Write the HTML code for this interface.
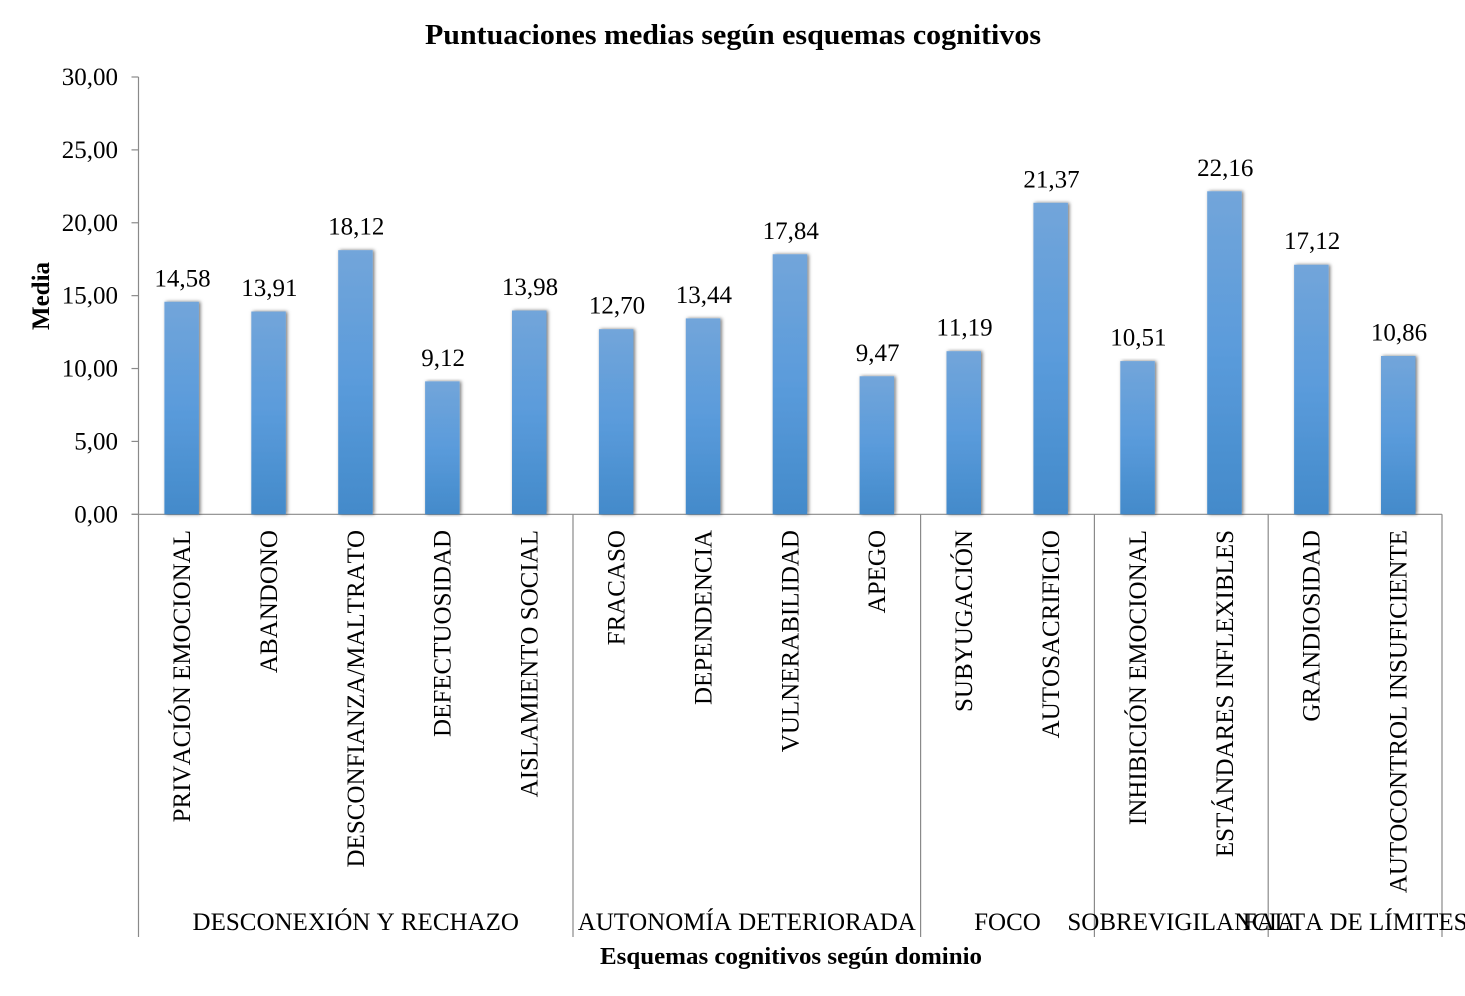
<!DOCTYPE html>
<html lang="es">
<head>
<meta charset="utf-8">
<title>Puntuaciones medias según esquemas cognitivos</title>
<style>
html,body{margin:0;padding:0;background:#fff;width:1465px;height:996px;overflow:hidden}
svg{display:block}
text{font-family:"Liberation Serif",serif;fill:#000;font-kerning:none}
</style>
</head>
<body>
<svg id="chart" xmlns="http://www.w3.org/2000/svg" width="1465" height="996" viewBox="0 0 1465 996">
<defs>
<linearGradient id="barFill" gradientUnits="objectBoundingBox" x1="0" y1="0" x2="0" y2="1">
<stop offset="0" stop-color="#72a5da"/>
<stop offset="0.5" stop-color="#5a9bdb"/>
<stop offset="1" stop-color="#438aca"/>
</linearGradient>
<filter id="barShadow" x="-30%" y="-2%" width="160%" height="104%">
<feDropShadow dx="1.5" dy="0" stdDeviation="1.8" flood-color="#000" flood-opacity="0.55"/>
</filter>
</defs>
<text x="733" y="44" text-anchor="middle" font-size="29" font-weight="bold" textLength="616" lengthAdjust="spacingAndGlyphs">Puntuaciones medias según esquemas cognitivos</text>
<text transform="translate(49,296) rotate(-90)" text-anchor="middle" font-size="25" font-weight="bold">Media</text>
<text x="791" y="964" text-anchor="middle" font-size="24" font-weight="bold" textLength="382" lengthAdjust="spacingAndGlyphs">Esquemas cognitivos según dominio</text>
<g id="axes"></g>
<g id="bars"></g>
<g id="labels"></g>
</svg>
<script>
const categories = ["PRIVACIÓN EMOCIONAL","ABANDONO","DESCONFIANZA/MALTRATO","DEFECTUOSIDAD","AISLAMIENTO SOCIAL","FRACASO","DEPENDENCIA","VULNERABILIDAD","APEGO","SUBYUGACIÓN","AUTOSACRIFICIO","INHIBICIÓN EMOCIONAL","ESTÁNDARES INFLEXIBLES","GRANDIOSIDAD","AUTOCONTROL INSUFICIENTE"];
const values = [14.58,13.91,18.12,9.12,13.98,12.70,13.44,17.84,9.47,11.19,21.37,10.51,22.16,17.12,10.86];
const domains = ["DESCONEXIÓN Y RECHAZO","AUTONOMÍA DETERIORADA","FOCO","SOBREVIGILANCIA","FALTA DE LÍMITES"];
const domainSizes = [5,4,2,2,2];
const yTicks = [0,5,10,15,20,25,30];

const NS = "http://www.w3.org/2000/svg";
const left = 138.5, right = 1442, top_ = 77, bottom = 514.3, axisEnd = 937;
const yMax = 30, barW = 34.5;
const step = (right - left) / categories.length;
const xBand = i => left + step * i;
const xMid = i => xBand(i) + step / 2;
const yPos = v => bottom - (v / yMax) * (bottom - top_);
const fmt = v => v.toFixed(2).replace(".", ",");

function mk(tag, attrs, parent, txt) {
  const el = document.createElementNS(NS, tag);
  for (const k in attrs) el.setAttribute(k, attrs[k]);
  if (txt !== undefined) el.textContent = txt;
  parent.appendChild(el);
  return el;
}
const gAxes = document.getElementById("axes");
const gBars = document.getElementById("bars");
const gLabels = document.getElementById("labels");
const axisStyle = {stroke:"#8a8a8a","stroke-width":1.2};

const yLine = mk("line", {x1:left,y1:top_,x2:left,y2:axisEnd,...axisStyle}, gAxes);


const xLine = mk("line", {x1:left-7,y1:bottom,x2:right,y2:bottom,...axisStyle}, gAxes);



yTicks.forEach(t => {
  const y = yPos(t);
  const tick = mk("line", {x1:left-7,y1:y,x2:left,y2:y,...axisStyle}, gAxes);
  
  
  const lab = mk("text", {x:118,y:y+8,"text-anchor":"end","font-size":25}, gLabels, fmt(t));
  
  
});

categories.forEach((c, i) => {
  const y = yPos(values[i]);
  const bar = mk("rect", {x:xMid(i)-barW/2-0.3,y:y,width:barW,height:bottom-y,fill:"url(#barFill)",filter:"url(#barShadow)"}, gBars);
  
  
  const val = mk("text", {x:xMid(i)+0.5,y:y-15.5,"text-anchor":"middle","font-size":25}, gLabels, fmt(values[i]));
  
  
  const cat = mk("text", {transform:`translate(${xMid(i)+8},530) rotate(-90)`,"text-anchor":"end","font-size":25}, gLabels, c);
  
  
});

let start = 0;
domains.forEach((d, i) => {
  const end = start + domainSizes[i];
  const x = xBand(end);
  const div = mk("line", {x1:x,y1:bottom,x2:x,y2:axisEnd,...axisStyle}, gAxes);
  
  
  const lab = mk("text", {x:(xBand(start)+x)/2,y:930,"text-anchor":"middle","font-size":25}, gLabels, d);
  
  
  start = end;
});
</script>
</body>
</html>
